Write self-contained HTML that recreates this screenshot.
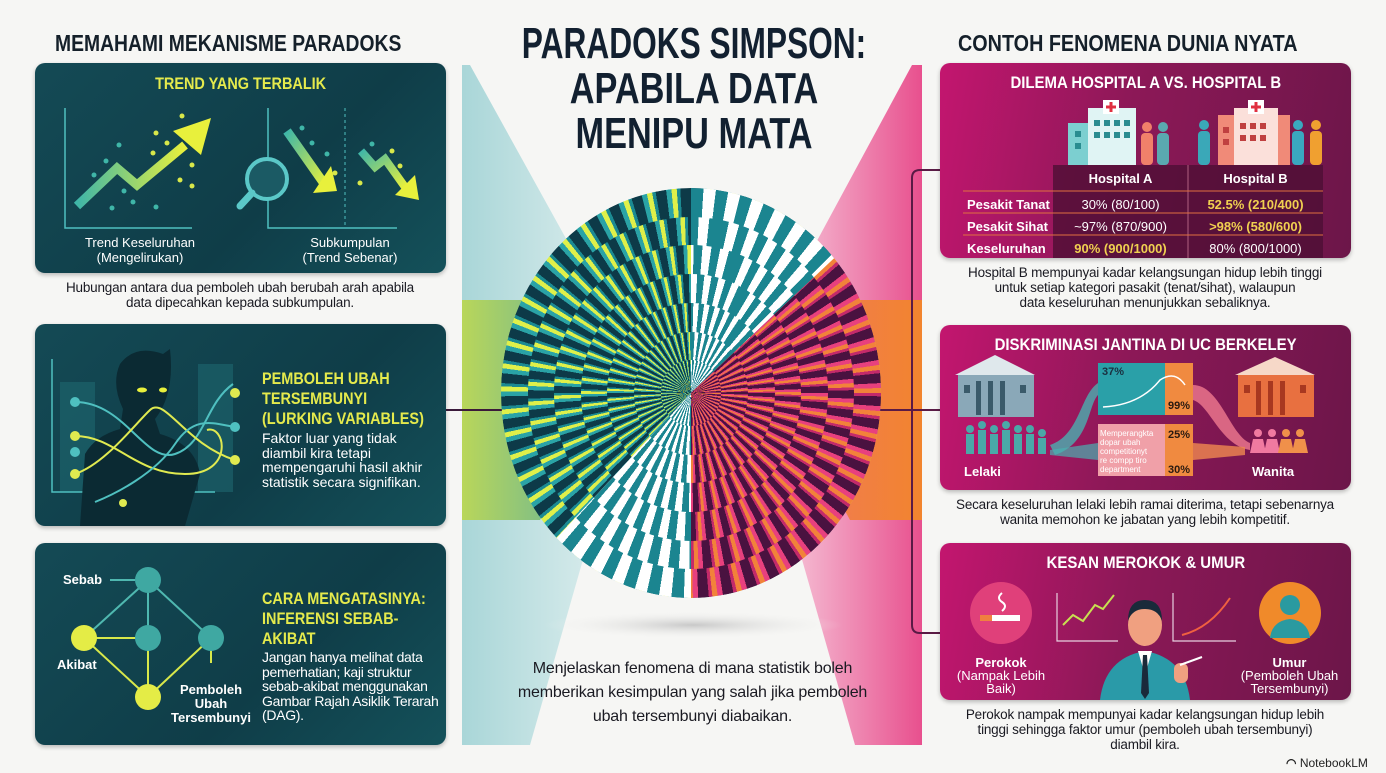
<!DOCTYPE html>
<html><head><meta charset="utf-8"><style>
*{margin:0;padding:0;box-sizing:border-box}
body{width:1386px;height:773px;background:#f6f6f4;position:relative;overflow:hidden;font-family:"Liberation Sans",sans-serif;color:#1a1a2a}
.a{position:absolute}
.h{font-weight:bold;white-space:nowrap}
.sx{transform-origin:0 0;display:inline-block}
.pl{position:absolute;border-radius:10px;background:linear-gradient(135deg,#144a55,#0f3d48 60%,#14515a);overflow:hidden;box-shadow:0 2px 4px rgba(0,0,0,.25)}
.pr{position:absolute;border-radius:10px;background:linear-gradient(100deg,#c3166f,#8c1857 45%,#6c1649);overflow:hidden;box-shadow:0 2px 4px rgba(0,0,0,.25)}
.cap{position:absolute;text-align:center;font-size:13.5px;line-height:15px;color:#1a1a22;letter-spacing:-.2px}
.y{color:#e5ea4c}
.w{color:#fff}
.t{font-size:13px;color:#fff;text-align:center;line-height:15px;position:absolute}
.reg{position:absolute;left:501px;top:188px;width:380px;height:410px;border-radius:50%;overflow:hidden}
.rg{position:absolute;border-radius:50%}
.r1{left:0;top:0;width:100%;height:100%}
.r2{left:7%;top:7%;width:86%;height:86%}
.r3{left:14%;top:14%;width:72%;height:72%}
.r4{left:21%;top:21%;width:58%;height:58%}
.r5{left:28%;top:28%;width:44%;height:44%}
.r6{left:35%;top:35%;width:30%;height:30%}
.r7{left:42%;top:42%;width:16%;height:16%}
</style></head><body>

<svg class="a" style="left:0;top:0" width="1386" height="773">
<defs>
<linearGradient id="lt" x1="0" x2="1"><stop offset="0" stop-color="#a9d6d8"/><stop offset="1" stop-color="#d9ecec"/></linearGradient>
<linearGradient id="lg" x1="0" x2="1"><stop offset="0" stop-color="#b9d65a"/><stop offset="1" stop-color="#5cb0a0"/></linearGradient>
<linearGradient id="rp" x1="0" x2="1"><stop offset="0" stop-color="#f6c4d8"/><stop offset="1" stop-color="#e8508e"/></linearGradient>
<linearGradient id="ro" x1="0" x2="1"><stop offset="0" stop-color="#f07a5a"/><stop offset="1" stop-color="#f2842e"/></linearGradient>
<radialGradient id="sh"><stop offset="0" stop-color="#c8c8c8"/><stop offset="1" stop-color="#f6f6f4" stop-opacity="0"/></radialGradient>
</defs>
<polygon points="462,65 470,65 600,300 600,500 530,745 462,745" fill="url(#lt)"/>
<polygon points="462,300 540,300 600,400 540,520 462,520" fill="url(#lg)"/>
<polygon points="922,65 912,65 785,300 785,500 855,745 922,745" fill="url(#rp)"/>
<polygon points="922,300 850,300 790,410 850,520 922,520" fill="url(#ro)"/>
<ellipse cx="693" cy="625" rx="150" ry="14" fill="url(#sh)"/>
<line x1="446" y1="410" x2="505" y2="410" stroke="#3b1a3a" stroke-width="2"/>
<line x1="878" y1="410" x2="912" y2="410" stroke="#5a1a45" stroke-width="2"/>
<path d="M940,170 H920 Q912,170 912,178 V625 Q912,633 920,633 H940" fill="none" stroke="#5a1a45" stroke-width="2"/>
<line x1="912" y1="410" x2="940" y2="410" stroke="#5a1a45" stroke-width="2"/>
</svg>

<div class="reg" id="L"></div>
<div class="reg" id="W1" style="clip-path:polygon(50% 50%,50% -5%,105% -5%,105% 2%)"></div>
<div class="reg" id="W2" style="clip-path:polygon(50% 50%,-5% 105%,50% 105%)"></div>
<div class="reg" id="P" style="clip-path:polygon(50% 50%,105% 2%,105% 105%,50% 105%)"></div>
<script>
(function(){
var pats={
L:"#0d3a48 0 3deg,#2aa3a6 3deg 4.5deg,#dff04a 4.5deg 6deg,#1b8a92 6deg 7deg",
W1:"#1b8590 0 3.5deg,#ffffff 3.5deg 7deg",
W2:"#1b8590 0 3.5deg,#ffffff 3.5deg 7deg",
P:"#4a1240 0 3deg,#e8407e 3deg 4.5deg,#f2823a 4.5deg 6deg,#c42a6a 6deg 7deg"};
var dir={L:1,W1:1,W2:1,P:-1};
for(var k in pats){var el=document.getElementById(k);var h="";
for(var i=1;i<=7;i++){h+='<div class="rg r'+i+'" style="background:repeating-conic-gradient(from '+(dir[k]*(i-1)*9)+'deg at 50% 50%,'+pats[k]+')"></div>';}
el.innerHTML=h;}
})();
</script>

<div class="a h" style="left:55px;top:30px;font-size:23px;color:#15202a"><span class="sx" style="transform:scaleX(.84)">MEMAHAMI MEKANISME PARADOKS</span></div>
<div class="a h" style="left:958px;top:30px;font-size:23px;color:#15202a"><span class="sx" style="transform:scaleX(.86)">CONTOH FENOMENA DUNIA NYATA</span></div>
<div class="a h" style="left:513px;top:21px;font-size:44px;line-height:45px;color:#122030;width:362px;text-align:center">
<div style="transform:scaleX(.72);transform-origin:50% 0;width:500px;margin-left:-69px">PARADOKS SIMPSON:</div>
<div style="transform:scaleX(.78);transform-origin:50% 0;width:500px;margin-left:-69px">APABILA DATA</div>
<div style="transform:scaleX(.78);transform-origin:50% 0;width:500px;margin-left:-69px">MENIPU MATA</div>
</div>
<div class="cap" style="left:500px;top:657px;width:385px;font-size:16px;line-height:24px;color:#1a1a22">Menjelaskan fenomena di mana statistik boleh memberikan kesimpulan yang salah jika pemboleh ubah tersembunyi diabaikan.</div>

<!-- LEFT PANEL 1 -->
<div class="pl" style="left:35px;top:63px;width:411px;height:210px">
<div class="a h y" style="left:0;width:411px;text-align:center;top:11px;font-size:17px"><span style="display:inline-block;transform:scaleX(.85)">TREND YANG TERBALIK</span></div>
<svg class="a" style="left:0;top:0" width="411" height="210">
<defs><linearGradient id="ag" x1="0" x2="1"><stop offset="0" stop-color="#3fb6a8"/><stop offset="1" stop-color="#e8f03c"/></linearGradient>
<linearGradient id="ag2" x1="0" y1="0" x2="1" y2="1"><stop offset="0" stop-color="#3fb6a8"/><stop offset="1" stop-color="#e8f03c"/></linearGradient></defs>
<polyline points="30,45 30,165 157,165" fill="none" stroke="#4fc0c0" stroke-width="1.5"/>
<polyline points="233,45 233,165 362,165" fill="none" stroke="#4fc0c0" stroke-width="1.5"/>
<line x1="310" y1="45" x2="310" y2="165" stroke="#4fc0c0" stroke-dasharray="3,3"/>
<polyline points="42,143 82,105 102,122 150,82" fill="none" stroke="url(#ag)" stroke-width="9" stroke-linejoin="miter"/>
<polygon points="138,68 176,55 166,92" fill="#e8f03c"/>
<polyline points="252,68 290,122" stroke="url(#ag2)" stroke-width="9"/>
<polygon points="278,130 302,128 296,103" fill="#e8f03c"/>
<polyline points="326,88 340,104 350,96 370,124" fill="none" stroke="url(#ag2)" stroke-width="8"/>
<polygon points="360,132 384,137 380,112" fill="#e8f03c"/>
<circle cx="232" cy="116" r="20" fill="#1b5a64" stroke="#5bc8c8" stroke-width="4"/>
<line x1="217" y1="130" x2="205" y2="143" stroke="#5bc8c8" stroke-width="7" stroke-linecap="round"/>
<g fill="#d8e84a"><circle cx="147" cy="53" r="2.5"/><circle cx="121" cy="70" r="2.5"/><circle cx="132" cy="80" r="2.5"/><circle cx="118" cy="90" r="2.5"/><circle cx="157" cy="102" r="2.5"/><circle cx="145" cy="117" r="2.5"/><circle cx="157" cy="123" r="2.5"/><circle cx="300" cy="110" r="2.5"/><circle cx="325" cy="120" r="2.5"/><circle cx="357" cy="88" r="2.5"/><circle cx="365" cy="103" r="2.5"/></g>
<g fill="#3fb6a8"><circle cx="84" cy="82" r="2.5"/><circle cx="71" cy="98" r="2.5"/><circle cx="59" cy="112" r="2.5"/><circle cx="89" cy="128" r="2.5"/><circle cx="98" cy="139" r="2.5"/><circle cx="77" cy="145" r="2.5"/><circle cx="121" cy="144" r="2.5"/><circle cx="267" cy="65" r="2.5"/><circle cx="277" cy="80" r="2.5"/><circle cx="292" cy="91" r="2.5"/><circle cx="337" cy="81" r="2.5"/></g>
</svg>
<div class="t" style="left:45px;width:120px;top:172px">Trend Keseluruhan<br>(Mengelirukan)</div>
<div class="t" style="left:255px;width:120px;top:172px">Subkumpulan<br>(Trend Sebenar)</div>
</div>
<div class="cap" style="left:40px;top:280px;width:400px">Hubungan antara dua pemboleh ubah berubah arah apabila<br>data dipecahkan kepada subkumpulan.</div>

<!-- LEFT PANEL 2 -->
<div class="pl" style="left:35px;top:324px;width:411px;height:202px">
<svg class="a" style="left:0;top:0" width="411" height="202">
<rect x="25" y="58" width="35" height="110" fill="#1e6870" opacity=".6"/>
<rect x="163" y="40" width="35" height="128" fill="#1e6870" opacity=".6"/>
<polyline points="17,35 17,168 180,168" fill="none" stroke="#4fc0c0" stroke-width="1.5"/>
<path d="M45,202 L50,130 Q60,112 85,105 L88,85 Q76,60 85,40 Q100,20 128,30 L135,25 Q140,70 120,95 L125,110 Q160,120 165,150 L150,202 Z" fill="#0b2a33"/>
<ellipse cx="107" cy="66" rx="5" ry="2.5" fill="#e8f03c"/><ellipse cx="128" cy="66" rx="4" ry="2.5" fill="#e8f03c"/>
<path d="M40,112 C80,112 100,150 150,150 S190,100 172,106" fill="none" stroke="#e0ea50" stroke-width="2"/>
<path d="M40,78 C90,78 110,140 140,130 S170,80 198,60" fill="none" stroke="#4fc0c0" stroke-width="2"/>
<path d="M40,150 C70,140 100,100 115,86 S150,120 200,136" fill="none" stroke="#e0ea50" stroke-width="2"/>
<path d="M60,178 C80,170 120,150 140,120 S180,100 200,103" fill="none" stroke="#4fc0c0" stroke-width="2"/>
<g fill="#e0ea50"><circle cx="40" cy="112" r="5"/><circle cx="40" cy="150" r="5"/><circle cx="200" cy="69" r="5"/><circle cx="200" cy="136" r="5"/><circle cx="88" cy="179" r="4"/></g>
<g fill="#4fc0c0"><circle cx="40" cy="78" r="5"/><circle cx="40" cy="128" r="5"/><circle cx="200" cy="103" r="5"/></g>
</svg>
<div class="a h y" style="left:227px;top:45px;font-size:17px;line-height:20px"><div class="sx" style="transform:scaleX(.85)">PEMBOLEH UBAH<br>TERSEMBUNYI<br>(LURKING VARIABLES)</div></div>
<div class="a w" style="left:227px;top:107px;font-size:14px;line-height:14.5px;width:200px">Faktor luar yang tidak<br>diambil kira tetapi<br>mempengaruhi hasil akhir<br>statistik secara signifikan.</div>
</div>

<!-- LEFT PANEL 3 -->
<div class="pl" style="left:35px;top:543px;width:411px;height:202px">
<svg class="a" style="left:0;top:0" width="411" height="202">
<g stroke="#4fb8b0" stroke-width="2"><line x1="113" y1="37" x2="49" y2="95"/><line x1="113" y1="37" x2="113" y2="95"/><line x1="113" y1="37" x2="176" y2="95"/><line x1="75" y1="37" x2="100" y2="37"/></g>
<g stroke="#d8e84a" stroke-width="2"><line x1="49" y1="95" x2="113" y2="95"/><line x1="49" y1="95" x2="113" y2="154"/><line x1="113" y1="95" x2="113" y2="154"/><line x1="176" y1="95" x2="113" y2="154"/><line x1="176" y1="95" x2="176" y2="120"/></g>
<circle cx="113" cy="37" r="13" fill="#3fa8a2"/><circle cx="113" cy="95" r="13" fill="#3fa8a2"/><circle cx="176" cy="95" r="13" fill="#3fa8a2"/>
<circle cx="49" cy="95" r="13" fill="#e4ec46"/><circle cx="113" cy="154" r="13" fill="#e4ec46"/>
</svg>
<div class="a h w" style="left:28px;top:29px;font-size:13px">Sebab</div>
<div class="a h w" style="left:22px;top:114px;font-size:13px">Akibat</div>
<div class="a h w" style="left:132px;top:140px;font-size:13px;line-height:14px;text-align:center;width:88px">Pemboleh<br>Ubah<br>Tersembunyi</div>
<div class="a h y" style="left:227px;top:46px;font-size:17px;line-height:20px"><div class="sx" style="transform:scaleX(.85)">CARA MENGATASINYA:<br>INFERENSI SEBAB-<br>AKIBAT</div></div>
<div class="a w" style="left:227px;top:107px;font-size:14px;line-height:14.5px;width:200px;letter-spacing:-.3px">Jangan hanya melihat data<br>pemerhatian; kaji struktur<br>sebab-akibat menggunakan<br>Gambar Rajah Asiklik Terarah<br>(DAG).</div>
</div>

<!-- RIGHT PANEL 1 -->
<div class="pr" style="left:940px;top:63px;width:411px;height:195px">
<div class="a h w" style="left:0;width:411px;text-align:center;top:10px;font-size:17px"><span style="display:inline-block;transform:scaleX(.88)">DILEMA HOSPITAL A VS. HOSPITAL B</span></div>
<svg class="a" style="left:0;top:0" width="411" height="195">
<rect x="128" y="60" width="55" height="42" fill="#7ccfd0"/><rect x="148" y="45" width="48" height="57" fill="#e0f4f4"/><rect x="163" y="37" width="16" height="14" fill="#fff"/><path d="M171,39v10M166,44h10" stroke="#e03040" stroke-width="3"/>
<g fill="#2a8c90"><rect x="154" y="57" width="6" height="6"/><rect x="164" y="57" width="6" height="6"/><rect x="174" y="57" width="6" height="6"/><rect x="184" y="57" width="6" height="6"/><rect x="154" y="69" width="6" height="6"/><rect x="164" y="69" width="6" height="6"/><rect x="174" y="69" width="6" height="6"/><rect x="184" y="69" width="6" height="6"/><rect x="135" y="68" width="6" height="6"/><rect x="135" y="80" width="6" height="6"/></g>
<rect x="278" y="52" width="72" height="50" fill="#f08a78"/><rect x="294" y="45" width="44" height="57" fill="#fbe0da"/><rect x="308" y="37" width="16" height="14" fill="#fff"/><path d="M316,39v10M311,44h10" stroke="#e03040" stroke-width="3"/>
<g fill="#c04040"><rect x="300" y="60" width="6" height="6"/><rect x="310" y="60" width="6" height="6"/><rect x="320" y="60" width="6" height="6"/><rect x="300" y="72" width="6" height="6"/><rect x="310" y="72" width="6" height="6"/><rect x="320" y="72" width="6" height="6"/><rect x="283" y="64" width="6" height="6"/><rect x="283" y="76" width="6" height="6"/></g>
<g><circle cx="207" cy="64" r="5" fill="#f0806a"/><rect x="201" y="70" width="12" height="32" rx="4" fill="#f0806a"/><circle cx="223" cy="64" r="5" fill="#5aa8b0"/><rect x="217" y="70" width="12" height="32" rx="4" fill="#5aa8b0"/>
<circle cx="264" cy="62" r="5" fill="#3aa8b8"/><rect x="258" y="68" width="12" height="34" rx="4" fill="#3aa8b8"/>
<circle cx="358" cy="62" r="5" fill="#3aa8c0"/><rect x="352" y="68" width="12" height="34" rx="4" fill="#3aa8c0"/><circle cx="376" cy="62" r="5" fill="#f0a030"/><rect x="370" y="68" width="12" height="34" rx="4" fill="#f0a030"/></g>
<rect x="113" y="102" width="270" height="93" fill="#4e0f34" opacity=".8"/>
<line x1="248" y1="102" x2="248" y2="195" stroke="#b06080"/>
<g stroke="#e07040" stroke-width="1"><line x1="23" y1="128" x2="383" y2="128"/><line x1="23" y1="150" x2="383" y2="150"/><line x1="23" y1="172" x2="383" y2="172"/></g>
</svg>
<div class="a h w" style="left:113px;width:135px;text-align:center;top:108px;font-size:13px">Hospital A</div>
<div class="a h w" style="left:248px;width:135px;text-align:center;top:108px;font-size:13px">Hospital B</div>
<div class="a h w" style="left:27px;top:131px;font-size:13px;line-height:22px">Pesakit Tanat<br>Pesakit Sihat<br>Keseluruhan</div>
<div class="a w" style="left:113px;width:135px;text-align:center;top:131px;font-size:13px;line-height:22px">30% (80/100)<br>~97% (870/900)<br><b style="color:#f0d050">90% (900/1000)</b></div>
<div class="a w" style="left:248px;width:135px;text-align:center;top:131px;font-size:13px;line-height:22px"><b style="color:#f0d050">52.5% (210/400)<br>&gt;98% (580/600)</b><br>80% (800/1000)</div>
</div>
<div class="cap" style="left:945px;top:265px;width:400px">Hospital B mempunyai kadar kelangsungan hidup lebih tinggi<br>untuk setiap kategori pasakit (tenat/sihat), walaupun<br>data keseluruhan menunjukkan sebaliknya.</div>

<!-- RIGHT PANEL 2 -->
<div class="pr" style="left:940px;top:325px;width:411px;height:165px">
<div class="a h w" style="left:0;width:411px;text-align:center;top:10px;font-size:17px"><span style="display:inline-block;transform:scaleX(.88)">DISKRIMINASI JANTINA DI UC BERKELEY</span></div>
<svg class="a" style="left:0;top:0" width="411" height="165">
<polygon points="15,50 55,30 95,50" fill="#dfe8ec"/><rect x="18" y="50" width="76" height="42" fill="#8aa8b8"/><g fill="#3a5a6a"><rect x="24" y="60" width="6" height="8"/><rect x="36" y="56" width="5" height="34"/><rect x="48" y="56" width="5" height="34"/><rect x="60" y="56" width="5" height="34"/><rect x="80" y="60" width="6" height="8"/></g>
<g fill="#4aa8a8"><circle cx="30" cy="104" r="4"/><rect x="26" y="109" width="8" height="20"/><circle cx="42" cy="100" r="4"/><rect x="38" y="105" width="8" height="24"/><circle cx="54" cy="104" r="4"/><rect x="50" y="109" width="8" height="20"/><circle cx="66" cy="100" r="4"/><rect x="62" y="105" width="8" height="24"/><circle cx="78" cy="104" r="4"/><rect x="74" y="109" width="8" height="20"/><circle cx="90" cy="104" r="4"/><rect x="86" y="109" width="8" height="20"/><circle cx="102" cy="108" r="4"/><rect x="98" y="113" width="8" height="16"/></g>
<path d="M110,120 C140,110 140,70 158,58 L158,70 C148,80 150,118 115,130Z" fill="#4ab0b0" opacity=".8"/>
<path d="M110,125 L158,118 L158,135 L110,130Z" fill="#4ab0b0" opacity=".7"/>
<rect x="158" y="38" width="95" height="52" fill="#2aa0a8"/><rect x="225" y="38" width="28" height="52" fill="#f08a40"/>
<path d="M163,82 Q200,80 220,55 Q235,45 245,60" fill="none" stroke="#fff" stroke-width="1.5"/>
<rect x="158" y="99" width="95" height="52" fill="#f0a0a8"/><rect x="225" y="99" width="28" height="52" fill="#f08a40"/>
<path d="M253,60 C280,60 290,110 310,118 L310,125 C280,120 270,80 253,75Z" fill="#f07a90" opacity=".8"/>
<path d="M253,118 L305,122 L305,130 L253,135Z" fill="#f08a50" opacity=".8"/>
<polygon points="295,50 335,32 375,50" fill="#f6d8c8"/><rect x="298" y="50" width="76" height="42" fill="#e87040"/><g fill="#a83820"><rect x="304" y="60" width="6" height="8"/><rect x="316" y="56" width="5" height="34"/><rect x="328" y="56" width="5" height="34"/><rect x="340" y="56" width="5" height="34"/><rect x="360" y="60" width="6" height="8"/></g>
<g><circle cx="318" cy="108" r="4" fill="#f07aa0"/><polygon points="313,114 323,114 326,128 310,128" fill="#f07aa0"/><circle cx="332" cy="108" r="4" fill="#f07aa0"/><polygon points="327,114 337,114 340,128 324,128" fill="#f07aa0"/><circle cx="346" cy="108" r="4" fill="#f0904a"/><polygon points="341,114 351,114 354,128 338,128" fill="#f0904a"/><circle cx="360" cy="108" r="4" fill="#f0904a"/><polygon points="355,114 365,114 368,128 352,128" fill="#f0904a"/></g>
</svg>
<div class="a h" style="left:162px;top:41px;font-size:11px;color:#1a3040">37%</div>
<div class="a h" style="left:228px;top:75px;font-size:11px;color:#2a1a10">99%</div>
<div class="a" style="left:160px;top:104px;font-size:8px;line-height:9px;color:#fff">Memperangkta<br>dopar ubah<br>competitionyt<br>re compp tiro<br>department</div>
<div class="a h" style="left:228px;top:104px;font-size:11px;color:#2a1a10">25%</div>
<div class="a h" style="left:228px;top:139px;font-size:11px;color:#2a1a10">30%</div>
<div class="a h w" style="left:24px;top:139px;font-size:13px">Lelaki</div>
<div class="a h w" style="left:312px;top:139px;font-size:13px">Wanita</div>
</div>
<div class="cap" style="left:945px;top:497px;width:400px">Secara keseluruhan lelaki lebih ramai diterima, tetapi sebenarnya<br>wanita memohon ke jabatan yang lebih kompetitif.</div>

<!-- RIGHT PANEL 3 -->
<div class="pr" style="left:940px;top:543px;width:411px;height:157px">
<div class="a h w" style="left:0;width:411px;text-align:center;top:10px;font-size:17px"><span style="display:inline-block;transform:scaleX(.88)">KESAN MEROKOK &amp; UMUR</span></div>
<svg class="a" style="left:0;top:0" width="411" height="157">
<circle cx="61" cy="70" r="31" fill="#e0407a"/><rect x="40" y="72" width="40" height="6" fill="#fff"/><rect x="40" y="72" width="12" height="6" fill="#f08040"/>
<path d="M62,50 q-6,5 0,9 q6,4 0,9" fill="none" stroke="#fff" stroke-width="2"/>
<polyline points="117,50 117,98 178,98" fill="none" stroke="#e8d0e0" stroke-width="1.2"/>
<polyline points="123,82 133,72 143,78 155,62 163,66 174,52" fill="none" stroke="#c8e050" stroke-width="2"/>
<polyline points="233,50 233,98 296,98" fill="none" stroke="#e8d0e0" stroke-width="1.2"/>
<path d="M242,92 Q270,85 290,55" fill="none" stroke="#f06040" stroke-width="2"/>
<circle cx="350" cy="70" r="31" fill="#f08a2a"/><circle cx="350" cy="62" r="10" fill="#2a9aa0"/><path d="M330,95 Q332,78 350,76 Q368,78 370,95Z" fill="#2a9aa0"/>
<ellipse cx="205" cy="82" rx="17" ry="21" fill="#f0a080"/><path d="M188,78 Q188,57 205,57 Q222,57 222,78 Q218,66 205,66 Q192,66 188,78Z" fill="#1a2a3a"/>
<path d="M160,157 Q165,115 205,108 Q245,115 250,157Z" fill="#2a9aa8"/><polygon points="198,108 212,108 205,132" fill="#fff"/><polygon points="203,112 207,112 209,150 205,156 201,150" fill="#1a2a3a"/>
<rect x="234" y="120" width="14" height="20" rx="6" fill="#f0a080"/><line x1="240" y1="122" x2="262" y2="114" stroke="#fff" stroke-width="2"/>
</svg>
<div class="a w" style="left:6px;top:113px;width:110px;text-align:center;font-size:13px;line-height:13px"><b>Perokok</b><br>(Nampak Lebih<br>Baik)</div>
<div class="a w" style="left:292px;top:113px;width:115px;text-align:center;font-size:13px;line-height:13px"><b>Umur</b><br>(Pemboleh Ubah<br>Tersembunyi)</div>
</div>
<div class="cap" style="left:945px;top:707px;width:400px">Perokok nampak mempunyai kadar kelangsungan hidup lebih<br>tinggi sehingga faktor umur (pemboleh ubah tersembunyi)<br>diambil kira.</div>

<div class="a" style="left:1286px;top:756px;font-size:12px;color:#222"><span style="font-weight:bold">◠</span> NotebookLM</div>
</body></html>
